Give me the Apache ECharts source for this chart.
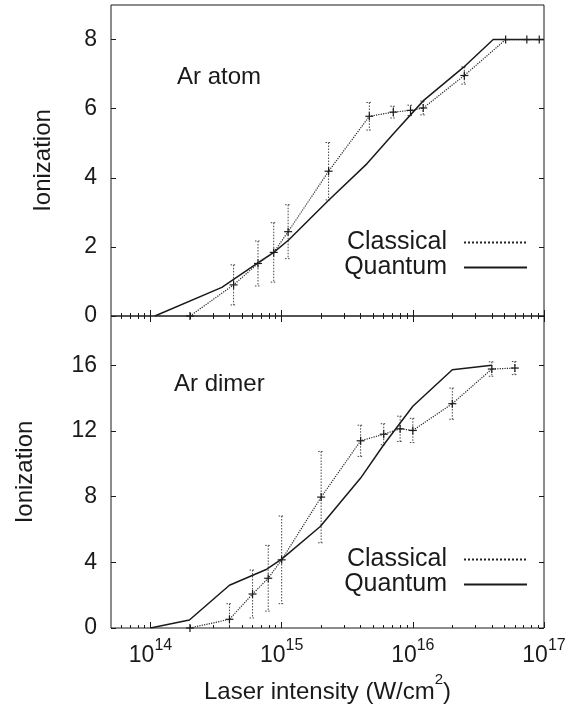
<!DOCTYPE html>
<html>
<head>
<meta charset="utf-8">
<script src="https://cdn.jsdelivr.net/npm/echarts@6/dist/echarts.min.js"></script>
<style>
  html, body { margin: 0; padding: 0; background: #fff; }
  #chart { width: 577px; height: 707px; }
</style>
</head>
<body>
<div id="chart"></div>
<script>
// ---------- values (intensity in W/cm^2) ----------
// Ar atom, quantum (solid)
const atomQuantumX = [1.08e14, 3.5e14, 6.5e14, 8.7e14, 1.13e15, 2.28e15, 4.48e15, 7.14e15, 1.21e16, 2.44e16, 4.1e16, 1e17];
const atomQuantumY = [0, 0.83, 1.52, 1.84, 2.2, 3.35, 4.41, 5.28, 6.24, 7.2, 8, 8];
// Ar atom, classical (dotted, with error bars)
const atomClassicalX = [2e14, 4.3e14, 6.6e14, 8.7e14, 1.12e15, 2.28e15, 4.66e15, 7.1e15, 9.6e15, 1.2e16, 2.47e16, 5.1e16, 7.4e16, 9.2e16];
const atomClassicalY = [0, 0.9, 1.52, 1.84, 2.44, 4.19, 5.78, 5.9, 5.95, 6.02, 6.96, 8, 8, 8];
const atomClassicalErr = [0, 0.58, 0.65, 0.86, 0.78, 0.83, 0.4, 0.17, 0.15, 0.2, 0.25, 0.05, 0.05, 0.05];
// Ar dimer, quantum (solid)
const dimerQuantumX = [1e14, 1.98e14, 4e14, 7.7e14, 1e15, 1.97e15, 4e15, 6e15, 1e16, 2e16, 4e16];
const dimerQuantumY = [0, 0.49, 2.6, 3.58, 4.19, 6.18, 9.13, 11.16, 13.5, 15.73, 16];
// Ar dimer, classical (dotted, with error bars)
const dimerClassicalX = [2e14, 4e14, 6e14, 7.9e14, 1e15, 2e15, 4e15, 6e15, 8e15, 1e16, 2e16, 4e16, 6e16];
const dimerClassicalY = [0, 0.53, 2.07, 3.03, 4.15, 7.97, 11.4, 11.8, 12.13, 12.03, 13.66, 15.77, 15.83];
const dimerClassicalErr = [0, 0.95, 1.46, 2.0, 2.67, 2.78, 0.95, 0.64, 0.77, 0.74, 0.95, 0.44, 0.4];

// ---------- axis ticks ----------
const decades = [14, 15, 16, 17];
const atomYTicks = [0, 2, 4, 6, 8];
const dimerYTicks = [0, 4, 8, 12, 16];
const X_MIN = Math.log10(5e13);
const X_MAX = 17;
const minorTicks = [];
for (let n = 13; n < 17; n++) {
  for (let k = 2; k <= 9; k++) {
    const v = n + Math.log10(k);
    if (v > X_MIN && v < X_MAX) minorTicks.push(v);
  }
}

const FONT = '"Liberation Sans", Arial, Helvetica, sans-serif';
const INK = '#1a1a1a';
const DOT = '#262626';

const toPairs = (xs, ys) => xs.map((x, i) => [Math.log10(x), ys[i]]);
const toErr = (xs, ys, es) => xs.map((x, i) => [Math.log10(x), ys[i], es[i]]);

/** dotted error bar with small caps plus a "+" marker */
function renderErrorBar(params, api) {
  const x = api.value(0), y = api.value(1), e = api.value(2);
  const c = api.coord([x, y]);
  const hi = api.coord([x, y + e]);
  const lo = api.coord([x, Math.max(y - e, 0)]);
  const dash = { stroke: '#444', lineWidth: 1, lineDash: [1.5, 1.5] };
  const kids = [];
  if (e > 0.1) {
    kids.push({ type: 'line', shape: { x1: c[0], y1: hi[1], x2: c[0], y2: lo[1] }, style: dash });
    kids.push({ type: 'line', shape: { x1: c[0] - 3, y1: hi[1], x2: c[0] + 3, y2: hi[1] }, style: dash });
    if (y - e > 0) kids.push({ type: 'line', shape: { x1: c[0] - 3, y1: lo[1], x2: c[0] + 3, y2: lo[1] }, style: dash });
  }
  const plus = { stroke: INK, lineWidth: 1.2 };
  kids.push({ type: 'line', shape: { x1: c[0] - 4, y1: c[1], x2: c[0] + 4, y2: c[1] }, style: plus });
  kids.push({ type: 'line', shape: { x1: c[0], y1: c[1] - 4, x2: c[0], y2: c[1] + 4 }, style: plus });
  return { type: 'group', children: kids };
}

function xAxisBase(gridIndex, position, values, len) {
  return {
    type: 'value', gridIndex, position, min: X_MIN, max: X_MAX,
    axisLine: { show: false },
    axisTick: { show: true, inside: true, length: len, customValues: values, lineStyle: { color: INK, width: 1 } },
    axisLabel: { show: false },
    splitLine: { show: false },
  };
}

function yAxisBase(gridIndex, position, max, ticks) {
  return {
    type: 'value', gridIndex, position, min: 0, max,
    axisLine: { show: false },
    axisTick: { show: true, inside: true, length: 5, customValues: ticks, lineStyle: { color: INK, width: 1 } },
    axisLabel: { show: false },
    splitLine: { show: false },
  };
}

const labelledX = Object.assign(xAxisBase(1, 'bottom', decades, 6), {
  axisLabel: {
    show: true, customValues: decades, margin: 10,
    formatter: (v) => '{b|10}{s|' + Math.round(v) + '}',
    rich: {
      b: { fontSize: 23, fontFamily: FONT, color: INK, lineHeight: 36 },
      s: { fontSize: 16, fontFamily: FONT, color: INK, lineHeight: 16, padding: [0, 0, 20, 0] },
    },
  },
  name: '{b|Laser intensity (W/cm}{s|2}{b|)}',
  nameLocation: 'middle',
  nameGap: 44,
  nameMoveOverlap: false,
  nameTextStyle: {
    rich: {
      b: { fontSize: 24, fontFamily: FONT, color: INK, lineHeight: 40 },
      s: { fontSize: 15, fontFamily: FONT, color: INK, lineHeight: 15, padding: [0, 0, 25, 0] },
    },
  },
});

function labelledY(gridIndex, max, ticks, gap) {
  return Object.assign(yAxisBase(gridIndex, 'left', max, ticks), {
    axisLabel: { show: true, customValues: ticks, margin: 14, fontSize: 23, fontFamily: FONT, color: INK },
    name: 'Ionization',
    nameLocation: 'middle',
    nameGap: gap,
    nameMoveOverlap: false,
    nameTextStyle: { fontSize: 24, fontFamily: FONT, color: INK },
  });
}

const classicalLine = { type: 'dotted', width: 1.2, color: DOT };
const quantumLine = { type: 'solid', width: 1.5, color: INK };

function legendAt(top) {
  return {
    orient: 'vertical', right: 49, top, padding: 0, itemGap: 0,
    align: 'right', itemWidth: 63, itemHeight: 14, selectedMode: false,
    itemStyle: { opacity: 0 },
    data: ['Classical', 'Quantum'],
    textStyle: { fontSize: 25, fontFamily: FONT, color: INK, lineHeight: 24, padding: [0, 12, 0, 0] },
  };
}

const option = {
  animation: false,
  backgroundColor: '#fff',
  grid: [
    { left: 111, top: 5, width: 433, height: 311, show: true, borderColor: INK, borderWidth: 1, containLabel: false, outerBoundsMode: 'none' },
    { left: 111, top: 316, width: 433, height: 312, show: true, borderColor: INK, borderWidth: 1, containLabel: false, outerBoundsMode: 'none' },
  ],
  xAxis: [
    xAxisBase(0, 'bottom', decades, 6),
    labelledX,
    xAxisBase(0, 'bottom', minorTicks, 3),
    xAxisBase(1, 'bottom', minorTicks, 3),
    xAxisBase(1, 'top', decades, 6),
    xAxisBase(1, 'top', minorTicks, 3),
  ],
  yAxis: [
    labelledY(0, 9, atomYTicks, 56),
    labelledY(1, 19, dimerYTicks, 74),
    yAxisBase(0, 'right', 9, atomYTicks),
    yAxisBase(1, 'right', 19, dimerYTicks),
  ],
  legend: [legendAt(230), legendAt(547)],
  graphic: [
    { type: 'text', left: 177, top: 65, style: { text: 'Ar atom', font: '24px ' + FONT, fill: INK } },
    { type: 'text', left: 174, top: 372, style: { text: 'Ar dimer', font: '24px ' + FONT, fill: INK } },
  ],
  series: [
    { name: 'Quantum', type: 'line', xAxisIndex: 0, yAxisIndex: 0, symbol: 'none', lineStyle: quantumLine, itemStyle: { color: INK }, data: toPairs(atomQuantumX, atomQuantumY) },
    { name: 'Classical', type: 'line', xAxisIndex: 0, yAxisIndex: 0, symbol: 'none', lineStyle: classicalLine, itemStyle: { color: DOT }, data: toPairs(atomClassicalX, atomClassicalY) },
    { name: 'atom-err', type: 'custom', xAxisIndex: 0, yAxisIndex: 0, renderItem: renderErrorBar, encode: { x: 0, y: 1 }, data: toErr(atomClassicalX, atomClassicalY, atomClassicalErr), z: 3 },
    { name: 'Quantum', type: 'line', xAxisIndex: 1, yAxisIndex: 1, symbol: 'none', lineStyle: quantumLine, itemStyle: { color: INK }, data: toPairs(dimerQuantumX, dimerQuantumY) },
    { name: 'Classical', type: 'line', xAxisIndex: 1, yAxisIndex: 1, symbol: 'none', lineStyle: classicalLine, itemStyle: { color: DOT }, data: toPairs(dimerClassicalX, dimerClassicalY) },
    { name: 'dimer-err', type: 'custom', xAxisIndex: 1, yAxisIndex: 1, renderItem: renderErrorBar, encode: { x: 0, y: 1 }, data: toErr(dimerClassicalX, dimerClassicalY, dimerClassicalErr), z: 3 },
  ],
};

const chart = echarts.init(document.getElementById('chart'));
chart.setOption(option);
</script>
</body>
</html>
